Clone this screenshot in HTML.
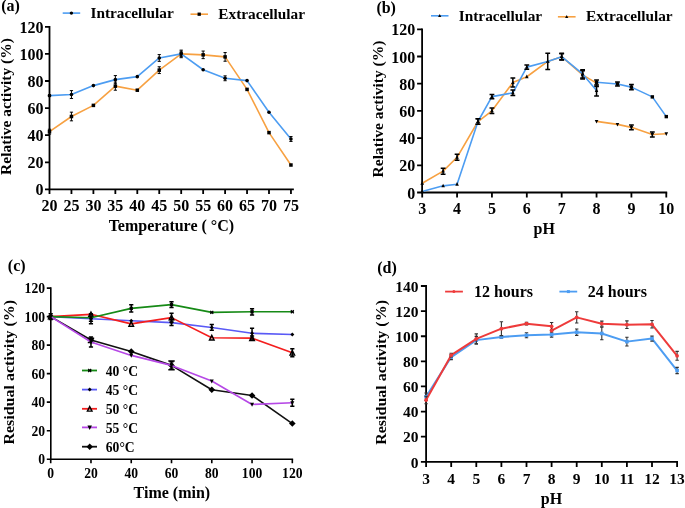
<!DOCTYPE html>
<html><head><meta charset="utf-8"><style>
html,body{margin:0;padding:0;background:#fff;}
body{width:685px;height:508px;overflow:hidden;}
svg{display:block;will-change:transform;}
text{font-family:"Liberation Serif",serif;font-weight:bold;fill:#000;}
</style></head><body>
<svg width="685" height="508" viewBox="0 0 685 508">
<rect width="685" height="508" fill="#fff"/>
<path d="M49.5 26.8 V189.4 H292.95" fill="none" stroke="#000" stroke-width="1.8" stroke-linecap="square"/>
<path d="M45 189.4H49.5M45 162.3H49.5M45 135.2H49.5M45 108.1H49.5M45 81H49.5M45 53.9H49.5M45 26.8H49.5M49.5 189.4V193.9M71.45 189.4V193.9M93.4 189.4V193.9M115.35 189.4V193.9M137.3 189.4V193.9M159.25 189.4V193.9M181.2 189.4V193.9M203.15 189.4V193.9M225.1 189.4V193.9M247.05 189.4V193.9M269 189.4V193.9M290.95 189.4V193.9" fill="none" stroke="#000" stroke-width="1.8"/>
<text x="43.4" y="195.2" font-size="16" text-anchor="end" >0</text>
<text x="43.4" y="168.1" font-size="16" text-anchor="end" >20</text>
<text x="43.4" y="141" font-size="16" text-anchor="end" >40</text>
<text x="43.4" y="113.9" font-size="16" text-anchor="end" >60</text>
<text x="43.4" y="86.8" font-size="16" text-anchor="end" >80</text>
<text x="43.4" y="59.7" font-size="16" text-anchor="end" >100</text>
<text x="43.4" y="32.6" font-size="16" text-anchor="end" >120</text>
<text x="49.5" y="211" font-size="16" text-anchor="middle" >20</text>
<text x="71.45" y="211" font-size="16" text-anchor="middle" >25</text>
<text x="93.4" y="211" font-size="16" text-anchor="middle" >30</text>
<text x="115.35" y="211" font-size="16" text-anchor="middle" >35</text>
<text x="137.3" y="211" font-size="16" text-anchor="middle" >40</text>
<text x="159.25" y="211" font-size="16" text-anchor="middle" >45</text>
<text x="181.2" y="211" font-size="16" text-anchor="middle" >50</text>
<text x="203.15" y="211" font-size="16" text-anchor="middle" >55</text>
<text x="225.1" y="211" font-size="16" text-anchor="middle" >60</text>
<text x="247.05" y="211" font-size="16" text-anchor="middle" >65</text>
<text x="269" y="211" font-size="16" text-anchor="middle" >70</text>
<text x="290.95" y="211" font-size="16" text-anchor="middle" >75</text>
<text x="0" y="0" font-size="15.5" text-anchor="middle" transform="translate(10.6 106.5) rotate(-90) scale(1 0.94)">Relative activity (%)</text>
<text x="171.4" y="230.8" font-size="16" text-anchor="middle" >Temperature ( °C)</text>
<text x="1.2" y="10.6" font-size="16" text-anchor="start" >(a)</text>
<path d="M49.5 131.68 L71.45 116.5 L93.4 105.39 L115.35 86.15 L137.3 90.21 L159.25 70.16 L181.2 53.9 L203.15 54.85 L225.1 56.88 L247.05 89.4 L269 132.63 L290.95 165.01" fill="none" stroke="#f7a142" stroke-width="1.6" stroke-linejoin="round"/>
<path d="M49.5 129.24V134.12M47.9 129.24H51.1M47.9 134.12H51.1" stroke="#000" stroke-width="1.0" fill="none"/>
<path d="M71.45 112.17V120.84M69.85 112.17H73.05M69.85 120.84H73.05" stroke="#000" stroke-width="1.0" fill="none"/>
<path d="M115.35 82.08V90.21M113.75 82.08H116.95M113.75 90.21H116.95" stroke="#000" stroke-width="1.0" fill="none"/>
<path d="M159.25 66.77V73.55M157.65 66.77H160.85M157.65 73.55H160.85" stroke="#000" stroke-width="1.0" fill="none"/>
<path d="M181.2 50.11V57.69M179.6 50.11H182.8M179.6 57.69H182.8" stroke="#000" stroke-width="1.0" fill="none"/>
<path d="M203.15 51.05V58.64M201.55 51.05H204.75M201.55 58.64H204.75" stroke="#000" stroke-width="1.0" fill="none"/>
<path d="M225.1 52.55V61.22M223.5 52.55H226.7M223.5 61.22H226.7" stroke="#000" stroke-width="1.0" fill="none"/>
<rect x="47.75" y="129.93" width="3.5" height="3.5" fill="#000"/>
<rect x="69.7" y="114.75" width="3.5" height="3.5" fill="#000"/>
<rect x="91.65" y="103.64" width="3.5" height="3.5" fill="#000"/>
<rect x="113.6" y="84.4" width="3.5" height="3.5" fill="#000"/>
<rect x="135.55" y="88.46" width="3.5" height="3.5" fill="#000"/>
<rect x="157.5" y="68.41" width="3.5" height="3.5" fill="#000"/>
<rect x="179.45" y="52.15" width="3.5" height="3.5" fill="#000"/>
<rect x="201.4" y="53.1" width="3.5" height="3.5" fill="#000"/>
<rect x="223.35" y="55.13" width="3.5" height="3.5" fill="#000"/>
<rect x="245.3" y="87.65" width="3.5" height="3.5" fill="#000"/>
<rect x="267.25" y="130.88" width="3.5" height="3.5" fill="#000"/>
<rect x="289.2" y="163.26" width="3.5" height="3.5" fill="#000"/>
<path d="M49.5 95.63 L71.45 94.55 L93.4 85.61 L115.35 79.64 L137.3 76.66 L159.25 57.97 L181.2 53.9 L203.15 69.75 L225.1 78.29 L247.05 80.59 L269 112.3 L290.95 138.99" fill="none" stroke="#4d9df2" stroke-width="1.6" stroke-linejoin="round"/>
<path d="M71.45 90.62V98.48M69.85 90.62H73.05M69.85 98.48H73.05" stroke="#000" stroke-width="1.0" fill="none"/>
<path d="M115.35 75.58V83.71M113.75 75.58H116.95M113.75 83.71H116.95" stroke="#000" stroke-width="1.0" fill="none"/>
<path d="M159.25 54.58V61.35M157.65 54.58H160.85M157.65 61.35H160.85" stroke="#000" stroke-width="1.0" fill="none"/>
<path d="M181.2 51.19V56.61M179.6 51.19H182.8M179.6 56.61H182.8" stroke="#000" stroke-width="1.0" fill="none"/>
<path d="M225.1 75.85V80.73M223.5 75.85H226.7M223.5 80.73H226.7" stroke="#000" stroke-width="1.0" fill="none"/>
<path d="M290.95 136.56V141.43M289.35 136.56H292.55M289.35 141.43H292.55" stroke="#000" stroke-width="1.0" fill="none"/>
<path d="M49.5 94.96V96.31M47.9 94.96H51.1M47.9 96.31H51.1" stroke="#000" stroke-width="1.0" fill="none"/>
<circle cx="49.5" cy="95.63" r="1.8" fill="#000"/>
<circle cx="71.45" cy="94.55" r="1.8" fill="#000"/>
<circle cx="93.4" cy="85.61" r="1.8" fill="#000"/>
<circle cx="115.35" cy="79.64" r="1.8" fill="#000"/>
<circle cx="137.3" cy="76.66" r="1.8" fill="#000"/>
<circle cx="159.25" cy="57.97" r="1.8" fill="#000"/>
<circle cx="181.2" cy="53.9" r="1.8" fill="#000"/>
<circle cx="203.15" cy="69.75" r="1.8" fill="#000"/>
<circle cx="225.1" cy="78.29" r="1.8" fill="#000"/>
<circle cx="247.05" cy="80.59" r="1.8" fill="#000"/>
<circle cx="269" cy="112.3" r="1.8" fill="#000"/>
<circle cx="290.95" cy="138.99" r="1.8" fill="#000"/>
<path d="M62.7 13.1 L80.2 13.1" fill="none" stroke="#4d9df2" stroke-width="1.6" stroke-linejoin="round"/>
<circle cx="71.4" cy="13.1" r="1.7" fill="#000"/>
<text x="90.5" y="18.4" font-size="15.3" text-anchor="start" >Intracellular</text>
<path d="M190.5 14.2 L208 14.2" fill="none" stroke="#f7a142" stroke-width="1.6" stroke-linejoin="round"/>
<rect x="197.55" y="12.55" width="3.3" height="3.3" fill="#000"/>
<text x="218.3" y="19.1" font-size="15.3" text-anchor="start" >Extracellular</text>
<path d="M422.1 29.3 V192.5 H666.29" fill="none" stroke="#000" stroke-width="1.8" stroke-linecap="square"/>
<path d="M417.1 192.5H422.1M417.1 165.3H422.1M417.1 138.1H422.1M417.1 110.9H422.1M417.1 83.7H422.1M417.1 56.5H422.1M417.1 29.3H422.1M422.2 192.5V197.5M457.07 192.5V197.5M491.94 192.5V197.5M526.81 192.5V197.5M561.68 192.5V197.5M596.55 192.5V197.5M631.42 192.5V197.5M666.29 192.5V197.5" fill="none" stroke="#000" stroke-width="1.8"/>
<text x="415.3" y="198.6" font-size="16" text-anchor="end" >0</text>
<text x="415.3" y="171.4" font-size="16" text-anchor="end" >20</text>
<text x="415.3" y="144.2" font-size="16" text-anchor="end" >40</text>
<text x="415.3" y="117" font-size="16" text-anchor="end" >60</text>
<text x="415.3" y="89.8" font-size="16" text-anchor="end" >80</text>
<text x="415.3" y="62.6" font-size="16" text-anchor="end" >100</text>
<text x="415.3" y="35.4" font-size="16" text-anchor="end" >120</text>
<text x="422.2" y="214.3" font-size="16" text-anchor="middle" >3</text>
<text x="457.07" y="214.3" font-size="16" text-anchor="middle" >4</text>
<text x="491.94" y="214.3" font-size="16" text-anchor="middle" >5</text>
<text x="526.81" y="214.3" font-size="16" text-anchor="middle" >6</text>
<text x="561.68" y="214.3" font-size="16" text-anchor="middle" >7</text>
<text x="596.55" y="214.3" font-size="16" text-anchor="middle" >8</text>
<text x="631.42" y="214.3" font-size="16" text-anchor="middle" >9</text>
<text x="666.29" y="214.3" font-size="16" text-anchor="middle" >10</text>
<text x="0" y="0" font-size="15.5" text-anchor="middle" transform="translate(382.7 109) rotate(-90) scale(1 0.94)">Relative activity (%)</text>
<text x="544.2" y="233.5" font-size="16" text-anchor="middle" >pH</text>
<text x="376.4" y="13.2" font-size="16" text-anchor="start" >(b)</text>
<path d="M422.2 183.25 L443.12 171.15 L457.07 157.28 L477.99 121.51 L491.94 110.76 L512.86 82.61 L526.81 76.76 L547.73 61.4 L561.68 56.64 L582.6 74.86 L596.55 83.16" fill="none" stroke="#f7a142" stroke-width="1.6" stroke-linejoin="round"/>
<path d="M443.12 168.16V174.14M440.72 168.16H445.52M440.72 174.14H445.52" stroke="#000" stroke-width="1.5" fill="none"/>
<path d="M457.07 154.28V160.27M454.67 154.28H459.47M454.67 160.27H459.47" stroke="#000" stroke-width="1.5" fill="none"/>
<path d="M477.99 118.79V124.23M475.59 118.79H480.39M475.59 124.23H480.39" stroke="#000" stroke-width="1.5" fill="none"/>
<path d="M491.94 108.04V113.48M489.54 108.04H494.34M489.54 113.48H494.34" stroke="#000" stroke-width="1.5" fill="none"/>
<path d="M512.86 78.12V87.1M510.46 78.12H515.26M510.46 87.1H515.26" stroke="#000" stroke-width="1.5" fill="none"/>
<path d="M547.73 53.24V69.56M545.33 53.24H550.13M545.33 69.56H550.13" stroke="#000" stroke-width="1.5" fill="none"/>
<path d="M561.68 53.37V59.9M559.28 53.37H564.08M559.28 59.9H564.08" stroke="#000" stroke-width="1.5" fill="none"/>
<path d="M582.6 70.78V78.94M580.2 70.78H585M580.2 78.94H585" stroke="#000" stroke-width="1.5" fill="none"/>
<path d="M596.55 79.89V86.42M594.15 79.89H598.95M594.15 86.42H598.95" stroke="#000" stroke-width="1.5" fill="none"/>
<path d="M422.2 181.09L424 184.69L420.4 184.69Z" fill="#000"/>
<path d="M443.12 168.99L444.92 172.59L441.32 172.59Z" fill="#000"/>
<path d="M457.07 155.12L458.87 158.72L455.27 158.72Z" fill="#000"/>
<path d="M477.99 119.35L479.79 122.95L476.19 122.95Z" fill="#000"/>
<path d="M491.94 108.6L493.74 112.2L490.14 112.2Z" fill="#000"/>
<path d="M512.86 80.45L514.66 84.05L511.06 84.05Z" fill="#000"/>
<path d="M526.81 74.6L528.61 78.2L525.01 78.2Z" fill="#000"/>
<path d="M547.73 59.24L549.53 62.84L545.93 62.84Z" fill="#000"/>
<path d="M561.68 54.48L563.48 58.08L559.88 58.08Z" fill="#000"/>
<path d="M582.6 72.7L584.4 76.3L580.8 76.3Z" fill="#000"/>
<path d="M596.55 81L598.35 84.6L594.75 84.6Z" fill="#000"/>
<path d="M422.2 191.41 L443.12 185.84 L457.07 184.2 L477.99 121.51 L491.94 96.62 L512.86 92.81 L526.81 67.11 L547.73 61.4 L561.68 56.64 L582.6 73.91 L596.55 90.5" fill="none" stroke="#4d9df2" stroke-width="1.6" stroke-linejoin="round"/>
<path d="M491.94 94.58V98.66M489.54 94.58H494.34M489.54 98.66H494.34" stroke="#000" stroke-width="1.5" fill="none"/>
<path d="M512.86 90.09V95.53M510.46 90.09H515.26M510.46 95.53H515.26" stroke="#000" stroke-width="1.5" fill="none"/>
<path d="M526.81 65.07V69.15M524.41 65.07H529.21M524.41 69.15H529.21" stroke="#000" stroke-width="1.5" fill="none"/>
<path d="M561.68 53.64V59.63M559.28 53.64H564.08M559.28 59.63H564.08" stroke="#000" stroke-width="1.5" fill="none"/>
<path d="M582.6 69.83V77.99M580.2 69.83H585M580.2 77.99H585" stroke="#000" stroke-width="1.5" fill="none"/>
<path d="M596.55 85.06V95.94M594.15 85.06H598.95M594.15 95.94H598.95" stroke="#000" stroke-width="1.5" fill="none"/>
<path d="M477.99 118.79V124.23M475.59 118.79H480.39M475.59 124.23H480.39" stroke="#000" stroke-width="1.5" fill="none"/>
<path d="M422.2 189.25L424 192.85L420.4 192.85Z" fill="#000"/>
<path d="M443.12 183.68L444.92 187.28L441.32 187.28Z" fill="#000"/>
<path d="M457.07 182.04L458.87 185.64L455.27 185.64Z" fill="#000"/>
<path d="M477.99 119.35L479.79 122.95L476.19 122.95Z" fill="#000"/>
<path d="M491.94 94.46L493.74 98.06L490.14 98.06Z" fill="#000"/>
<path d="M512.86 90.65L514.66 94.25L511.06 94.25Z" fill="#000"/>
<path d="M526.81 64.95L528.61 68.55L525.01 68.55Z" fill="#000"/>
<path d="M547.73 59.24L549.53 62.84L545.93 62.84Z" fill="#000"/>
<path d="M561.68 54.48L563.48 58.08L559.88 58.08Z" fill="#000"/>
<path d="M582.6 71.75L584.4 75.35L580.8 75.35Z" fill="#000"/>
<path d="M596.55 88.34L598.35 91.94L594.75 91.94Z" fill="#000"/>
<path d="M596.55 82.2 L617.47 83.97 L631.42 87.1 L652.34 96.89 L666.29 116.61" fill="none" stroke="#4d9df2" stroke-width="1.6" stroke-linejoin="round"/>
<path d="M617.47 81.93V86.01M615.07 81.93H619.87M615.07 86.01H619.87" stroke="#000" stroke-width="1.5" fill="none"/>
<path d="M631.42 84.38V89.82M629.02 84.38H633.82M629.02 89.82H633.82" stroke="#000" stroke-width="1.5" fill="none"/>
<rect x="594.85" y="80.5" width="3.4" height="3.4" fill="#000"/>
<rect x="615.77" y="82.27" width="3.4" height="3.4" fill="#000"/>
<rect x="629.72" y="85.4" width="3.4" height="3.4" fill="#000"/>
<rect x="650.64" y="95.19" width="3.4" height="3.4" fill="#000"/>
<rect x="664.59" y="114.91" width="3.4" height="3.4" fill="#000"/>
<path d="M596.55 121.37 L617.47 124.36 L631.42 127.36 L652.34 134.43 L666.29 133.75" fill="none" stroke="#f7a142" stroke-width="1.6" stroke-linejoin="round"/>
<path d="M631.42 124.91V129.8M629.02 124.91H633.82M629.02 129.8H633.82" stroke="#000" stroke-width="1.5" fill="none"/>
<path d="M652.34 131.98V136.88M649.94 131.98H654.74M649.94 136.88H654.74" stroke="#000" stroke-width="1.5" fill="none"/>
<path d="M596.55 123.53L598.35 119.93L594.75 119.93Z" fill="#000"/>
<path d="M617.47 126.52L619.27 122.92L615.67 122.92Z" fill="#000"/>
<path d="M631.42 129.52L633.22 125.92L629.62 125.92Z" fill="#000"/>
<path d="M652.34 136.59L654.14 132.99L650.54 132.99Z" fill="#000"/>
<path d="M666.29 135.91L668.09 132.31L664.49 132.31Z" fill="#000"/>
<path d="M431 15.8 L448.5 15.8" fill="none" stroke="#4d9df2" stroke-width="1.6" stroke-linejoin="round"/>
<path d="M439.7 13.88L441.3 17.08L438.1 17.08Z" fill="#000"/>
<text x="458.8" y="20.6" font-size="15.3" text-anchor="start" >Intracellular</text>
<path d="M557.9 16.8 L575.6 16.8" fill="none" stroke="#f7a142" stroke-width="1.6" stroke-linejoin="round"/>
<path d="M566.7 14.88L568.3 18.08L565.1 18.08Z" fill="#000"/>
<text x="586" y="21.2" font-size="15.3" text-anchor="start" >Extracellular</text>
<path d="M50.8 288.1 V459.2 H292.32" fill="none" stroke="#000" stroke-width="1.6" stroke-linecap="square"/>
<path d="M46.8 459.2H50.8M46.8 430.68H50.8M46.8 402.17H50.8M46.8 373.65H50.8M46.8 345.13H50.8M46.8 316.62H50.8M46.8 288.1H50.8M50.7 459.2V463.2M90.97 459.2V463.2M131.24 459.2V463.2M171.51 459.2V463.2M211.78 459.2V463.2M252.05 459.2V463.2M292.32 459.2V463.2" fill="none" stroke="#000" stroke-width="1.6"/>
<text x="45" y="464.2" font-size="13.6" text-anchor="end" >0</text>
<text x="45" y="435.68" font-size="13.6" text-anchor="end" >20</text>
<text x="45" y="407.17" font-size="13.6" text-anchor="end" >40</text>
<text x="45" y="378.65" font-size="13.6" text-anchor="end" >60</text>
<text x="45" y="350.13" font-size="13.6" text-anchor="end" >80</text>
<text x="45" y="321.62" font-size="13.6" text-anchor="end" >100</text>
<text x="45" y="293.1" font-size="13.6" text-anchor="end" >120</text>
<text x="50.7" y="478.1" font-size="13.6" text-anchor="middle" >0</text>
<text x="90.97" y="478.1" font-size="13.6" text-anchor="middle" >20</text>
<text x="131.24" y="478.1" font-size="13.6" text-anchor="middle" >40</text>
<text x="171.51" y="478.1" font-size="13.6" text-anchor="middle" >60</text>
<text x="211.78" y="478.1" font-size="13.6" text-anchor="middle" >80</text>
<text x="252.05" y="478.1" font-size="13.6" text-anchor="middle" >100</text>
<text x="292.32" y="478.1" font-size="13.6" text-anchor="middle" >120</text>
<text x="0" y="0" font-size="16" text-anchor="middle" transform="translate(13.5 372.2) rotate(-90) scale(1 0.94)">Residual activity (%)</text>
<text x="171.9" y="498.4" font-size="16" text-anchor="middle" >Time (min)</text>
<text x="7.8" y="271" font-size="16" text-anchor="start" >(c)</text>
<path d="M50.7 316.62 L90.97 340 L131.24 351.55 L171.51 365.38 L211.78 389.76 L252.05 395.47 L292.32 423.55" fill="none" stroke="#111" stroke-width="1.6" stroke-linejoin="round"/>
<path d="M90.97 338.15V342.42M87.77 338.15H94.17M87.77 342.42H94.17" stroke="#000" stroke-width="1.5" fill="none"/>
<path d="M171.51 360.96V369.8M168.31 360.96H174.71M168.31 369.8H174.71" stroke="#000" stroke-width="1.5" fill="none"/>
<path d="M50.7 313.32L54 316.62L50.7 319.92L47.4 316.62Z" fill="#000"/>
<path d="M90.97 336.7L94.27 340L90.97 343.3L87.67 340Z" fill="#000"/>
<path d="M131.24 348.25L134.54 351.55L131.24 354.85L127.94 351.55Z" fill="#000"/>
<path d="M171.51 362.08L174.81 365.38L171.51 368.68L168.21 365.38Z" fill="#000"/>
<path d="M211.78 386.46L215.08 389.76L211.78 393.06L208.48 389.76Z" fill="#000"/>
<path d="M252.05 392.17L255.35 395.47L252.05 398.77L248.75 395.47Z" fill="#000"/>
<path d="M292.32 420.25L295.62 423.55L292.32 426.85L289.02 423.55Z" fill="#000"/>
<path d="M50.7 316.62 L90.97 318.76 L131.24 320.75 L171.51 322.61 L211.78 327.45 L252.05 333.3 L292.32 334.44" fill="none" stroke="#5a5af6" stroke-width="1.6" stroke-linejoin="round"/>
<path d="M90.97 313.76V323.75M88.87 313.76H93.07M88.87 323.75H93.07" stroke="#000" stroke-width="1.5" fill="none"/>
<path d="M171.51 319.75V325.46M169.41 319.75H173.61M169.41 325.46H173.61" stroke="#000" stroke-width="1.5" fill="none"/>
<path d="M211.78 324.6V330.3M209.68 324.6H213.88M209.68 330.3H213.88" stroke="#000" stroke-width="1.5" fill="none"/>
<path d="M252.05 328.31V338.29M249.95 328.31H254.15M249.95 338.29H254.15" stroke="#000" stroke-width="1.5" fill="none"/>
<path d="M50.7 314.62L52.7 316.62L50.7 318.62L48.7 316.62Z" fill="#000"/>
<path d="M90.97 316.76L92.97 318.76L90.97 320.76L88.97 318.76Z" fill="#000"/>
<path d="M131.24 318.75L133.24 320.75L131.24 322.75L129.24 320.75Z" fill="#000"/>
<path d="M171.51 320.61L173.51 322.61L171.51 324.61L169.51 322.61Z" fill="#000"/>
<path d="M211.78 325.45L213.78 327.45L211.78 329.45L209.78 327.45Z" fill="#000"/>
<path d="M252.05 331.3L254.05 333.3L252.05 335.3L250.05 333.3Z" fill="#000"/>
<path d="M292.32 332.44L294.32 334.44L292.32 336.44L290.32 334.44Z" fill="#000"/>
<path d="M50.7 316.62 L90.97 314.34 L131.24 323.89 L171.51 317.61 L211.78 337.72 L252.05 338.15 L292.32 352.83" fill="none" stroke="#f41e1e" stroke-width="1.6" stroke-linejoin="round"/>
<path d="M171.51 313.34V321.89M169.41 313.34H173.61M169.41 321.89H173.61" stroke="#000" stroke-width="1.5" fill="none"/>
<path d="M252.05 336.01V340.29M249.95 336.01H254.15M249.95 340.29H254.15" stroke="#000" stroke-width="1.5" fill="none"/>
<path d="M292.32 348.84V356.83M290.22 348.84H294.42M290.22 356.83H294.42" stroke="#000" stroke-width="1.5" fill="none"/>
<path d="M50.7 314.32L53 318.92L48.4 318.92Z" fill="none" stroke="#000" stroke-width="1.4" stroke-linejoin="miter"/>
<path d="M90.97 312.04L93.27 316.64L88.67 316.64Z" fill="none" stroke="#000" stroke-width="1.4" stroke-linejoin="miter"/>
<path d="M131.24 321.59L133.54 326.19L128.94 326.19Z" fill="none" stroke="#000" stroke-width="1.4" stroke-linejoin="miter"/>
<path d="M171.51 315.31L173.81 319.91L169.21 319.91Z" fill="none" stroke="#000" stroke-width="1.4" stroke-linejoin="miter"/>
<path d="M211.78 335.42L214.08 340.02L209.48 340.02Z" fill="none" stroke="#000" stroke-width="1.4" stroke-linejoin="miter"/>
<path d="M252.05 335.85L254.35 340.45L249.75 340.45Z" fill="none" stroke="#000" stroke-width="1.4" stroke-linejoin="miter"/>
<path d="M292.32 350.53L294.62 355.13L290.02 355.13Z" fill="none" stroke="#000" stroke-width="1.4" stroke-linejoin="miter"/>
<path d="M50.7 316.62 L90.97 317.76 L131.24 308.35 L171.51 304.64 L211.78 312.34 L252.05 311.77 L292.32 311.77" fill="none" stroke="#168a16" stroke-width="1.6" stroke-linejoin="round"/>
<path d="M90.97 314.19V321.32M88.87 314.19H93.07M88.87 321.32H93.07" stroke="#000" stroke-width="1.5" fill="none"/>
<path d="M131.24 304.78V311.91M129.14 304.78H133.34M129.14 311.91H133.34" stroke="#000" stroke-width="1.5" fill="none"/>
<path d="M171.51 301.79V307.49M169.41 301.79H173.61M169.41 307.49H173.61" stroke="#000" stroke-width="1.5" fill="none"/>
<path d="M252.05 308.63V314.91M249.95 308.63H254.15M249.95 314.91H254.15" stroke="#000" stroke-width="1.5" fill="none"/>
<path d="M49.2 315.12L52.2 318.12M52.2 315.12L49.2 318.12M49.2 316.62H52.2" stroke="#000" stroke-width="1.2"/>
<path d="M89.47 316.26L92.47 319.26M92.47 316.26L89.47 319.26M89.47 317.76H92.47" stroke="#000" stroke-width="1.2"/>
<path d="M129.74 306.85L132.74 309.85M132.74 306.85L129.74 309.85M129.74 308.35H132.74" stroke="#000" stroke-width="1.2"/>
<path d="M170.01 303.14L173.01 306.14M173.01 303.14L170.01 306.14M170.01 304.64H173.01" stroke="#000" stroke-width="1.2"/>
<path d="M210.28 310.84L213.28 313.84M213.28 310.84L210.28 313.84M210.28 312.34H213.28" stroke="#000" stroke-width="1.2"/>
<path d="M250.55 310.27L253.55 313.27M253.55 310.27L250.55 313.27M250.55 311.77H253.55" stroke="#000" stroke-width="1.2"/>
<path d="M290.82 310.27L293.82 313.27M293.82 310.27L290.82 313.27M290.82 311.77H293.82" stroke="#000" stroke-width="1.2"/>
<path d="M50.7 316.62 L90.97 342 L131.24 355.4 L171.51 365.38 L211.78 381.06 L252.05 404.45 L292.32 402.74" fill="none" stroke="#b648e6" stroke-width="1.6" stroke-linejoin="round"/>
<path d="M50.7 313.76V319.47M48.6 313.76H52.8M48.6 319.47H52.8" stroke="#000" stroke-width="1.5" fill="none"/>
<path d="M90.97 337.01V346.99M88.87 337.01H93.07M88.87 346.99H93.07" stroke="#000" stroke-width="1.5" fill="none"/>
<path d="M171.51 361.82V368.94M169.41 361.82H173.61M169.41 368.94H173.61" stroke="#000" stroke-width="1.5" fill="none"/>
<path d="M292.32 399.17V406.3M290.22 399.17H294.42M290.22 406.3H294.42" stroke="#000" stroke-width="1.5" fill="none"/>
<path d="M50.7 319.02L52.7 315.02L48.7 315.02Z" fill="#000"/>
<path d="M90.97 344.4L92.97 340.4L88.97 340.4Z" fill="#000"/>
<path d="M131.24 357.8L133.24 353.8L129.24 353.8Z" fill="#000"/>
<path d="M171.51 367.78L173.51 363.78L169.51 363.78Z" fill="#000"/>
<path d="M211.78 383.46L213.78 379.46L209.78 379.46Z" fill="#000"/>
<path d="M252.05 406.85L254.05 402.85L250.05 402.85Z" fill="#000"/>
<path d="M292.32 405.14L294.32 401.14L290.32 401.14Z" fill="#000"/>
<path d="M82 370.5 L97 370.5" fill="none" stroke="#168a16" stroke-width="1.8" stroke-linejoin="round"/>
<path d="M88.2 369L91.2 372M91.2 369L88.2 372M88.2 370.5H91.2" stroke="#000" stroke-width="1.2"/>
<text x="105.8" y="375.7" font-size="13.6" text-anchor="start" >40 °C</text>
<path d="M82 389.6 L97 389.6" fill="none" stroke="#5a5af6" stroke-width="1.8" stroke-linejoin="round"/>
<path d="M89.7 387.6L91.7 389.6L89.7 391.6L87.7 389.6Z" fill="#000"/>
<text x="105.8" y="394.8" font-size="13.6" text-anchor="start" >45 °C</text>
<path d="M82 408.8 L97 408.8" fill="none" stroke="#f41e1e" stroke-width="1.8" stroke-linejoin="round"/>
<path d="M89.7 406.5L92 411.1L87.4 411.1Z" fill="none" stroke="#000" stroke-width="1.4" stroke-linejoin="miter"/>
<text x="105.8" y="414" font-size="13.6" text-anchor="start" >50 °C</text>
<path d="M82 427.4 L97 427.4" fill="none" stroke="#b648e6" stroke-width="1.8" stroke-linejoin="round"/>
<path d="M89.7 430.1L91.95 425.6L87.45 425.6Z" fill="#000"/>
<text x="105.8" y="432.6" font-size="13.6" text-anchor="start" >55 °C</text>
<path d="M82 446.7 L97 446.7" fill="none" stroke="#111" stroke-width="1.8" stroke-linejoin="round"/>
<path d="M89.7 443.5L92.9 446.7L89.7 449.9L86.5 446.7Z" fill="#000"/>
<text x="105.8" y="451.9" font-size="13.6" text-anchor="start" >60°C</text>
<path d="M426.1 286 V461.8 H677.1" fill="none" stroke="#000" stroke-width="1.8" stroke-linecap="square"/>
<path d="M420.9 461.8H426.1M420.9 436.69H426.1M420.9 411.57H426.1M420.9 386.46H426.1M420.9 361.34H426.1M420.9 336.23H426.1M420.9 311.11H426.1M420.9 286H426.1M426.1 461.8V467M451.2 461.8V467M476.3 461.8V467M501.4 461.8V467M526.5 461.8V467M551.6 461.8V467M576.7 461.8V467M601.8 461.8V467M626.9 461.8V467M652 461.8V467M677.1 461.8V467" fill="none" stroke="#000" stroke-width="1.8"/>
<text x="418.6" y="467.6" font-size="15.5" text-anchor="end" >0</text>
<text x="418.6" y="442.49" font-size="15.5" text-anchor="end" >20</text>
<text x="418.6" y="417.37" font-size="15.5" text-anchor="end" >40</text>
<text x="418.6" y="392.26" font-size="15.5" text-anchor="end" >60</text>
<text x="418.6" y="367.14" font-size="15.5" text-anchor="end" >80</text>
<text x="418.6" y="342.03" font-size="15.5" text-anchor="end" >100</text>
<text x="418.6" y="316.91" font-size="15.5" text-anchor="end" >120</text>
<text x="418.6" y="291.8" font-size="15.5" text-anchor="end" >140</text>
<text x="426.1" y="484.3" font-size="15.5" text-anchor="middle" >3</text>
<text x="451.2" y="484.3" font-size="15.5" text-anchor="middle" >4</text>
<text x="476.3" y="484.3" font-size="15.5" text-anchor="middle" >5</text>
<text x="501.4" y="484.3" font-size="15.5" text-anchor="middle" >6</text>
<text x="526.5" y="484.3" font-size="15.5" text-anchor="middle" >7</text>
<text x="551.6" y="484.3" font-size="15.5" text-anchor="middle" >8</text>
<text x="576.7" y="484.3" font-size="15.5" text-anchor="middle" >9</text>
<text x="601.8" y="484.3" font-size="15.5" text-anchor="middle" >10</text>
<text x="626.9" y="484.3" font-size="15.5" text-anchor="middle" >11</text>
<text x="652" y="484.3" font-size="15.5" text-anchor="middle" >12</text>
<text x="677.1" y="484.3" font-size="15.5" text-anchor="middle" >13</text>
<text x="0" y="0" font-size="16" text-anchor="middle" transform="translate(385.8 372.4) rotate(-90) scale(1 0.94)">Residual activity (%)</text>
<text x="551.5" y="504.4" font-size="16" text-anchor="middle" >pH</text>
<text x="377.2" y="273" font-size="16" text-anchor="start" >(d)</text>
<path d="M426.1 396.75 L451.2 357.07 L476.3 340.12 L501.4 336.98 L526.5 335.22 L551.6 334.6 L576.7 332.21 L601.8 333.47 L626.9 341.63 L652 338.61 L677.1 370.51" fill="none" stroke="#4d9df2" stroke-width="2.0" stroke-linejoin="round"/>
<path d="M426.1 392.99V400.52M424.4 392.99H427.8M424.4 400.52H427.8" stroke="#333" stroke-width="1.1" fill="none"/>
<path d="M451.2 354.56V359.58M449.5 354.56H452.9M449.5 359.58H452.9" stroke="#333" stroke-width="1.1" fill="none"/>
<path d="M476.3 336.35V343.89M474.6 336.35H478M474.6 343.89H478" stroke="#333" stroke-width="1.1" fill="none"/>
<path d="M501.4 335.73V338.24M499.7 335.73H503.1M499.7 338.24H503.1" stroke="#333" stroke-width="1.1" fill="none"/>
<path d="M526.5 332.71V337.74M524.8 332.71H528.2M524.8 337.74H528.2" stroke="#333" stroke-width="1.1" fill="none"/>
<path d="M551.6 332.08V337.11M549.9 332.08H553.3M549.9 337.11H553.3" stroke="#333" stroke-width="1.1" fill="none"/>
<path d="M576.7 329.07V335.35M575 329.07H578.4M575 335.35H578.4" stroke="#333" stroke-width="1.1" fill="none"/>
<path d="M601.8 327.19V339.74M600.1 327.19H603.5M600.1 339.74H603.5" stroke="#333" stroke-width="1.1" fill="none"/>
<path d="M626.9 337.23V346.02M625.2 337.23H628.6M625.2 346.02H628.6" stroke="#333" stroke-width="1.1" fill="none"/>
<path d="M652 336.1V341.13M650.3 336.1H653.7M650.3 341.13H653.7" stroke="#333" stroke-width="1.1" fill="none"/>
<path d="M677.1 367.37V373.65M675.4 367.37H678.8M675.4 373.65H678.8" stroke="#333" stroke-width="1.1" fill="none"/>
<rect x="424.3" y="394.95" width="3.6" height="3.6" fill="#4d9df2"/>
<rect x="449.4" y="355.27" width="3.6" height="3.6" fill="#4d9df2"/>
<rect x="474.5" y="338.32" width="3.6" height="3.6" fill="#4d9df2"/>
<rect x="499.6" y="335.18" width="3.6" height="3.6" fill="#4d9df2"/>
<rect x="524.7" y="333.42" width="3.6" height="3.6" fill="#4d9df2"/>
<rect x="549.8" y="332.8" width="3.6" height="3.6" fill="#4d9df2"/>
<rect x="574.9" y="330.41" width="3.6" height="3.6" fill="#4d9df2"/>
<rect x="600" y="331.67" width="3.6" height="3.6" fill="#4d9df2"/>
<rect x="625.1" y="339.83" width="3.6" height="3.6" fill="#4d9df2"/>
<rect x="650.2" y="336.81" width="3.6" height="3.6" fill="#4d9df2"/>
<rect x="675.3" y="368.71" width="3.6" height="3.6" fill="#4d9df2"/>
<path d="M426.1 400.02 L451.2 355.19 L476.3 338.87 L501.4 328.69 L526.5 323.67 L551.6 326.31 L551.6 330.58 L576.7 317.39 L601.8 323.67 L626.9 324.68 L652 324.3 L677.1 355.82" fill="none" stroke="#ee3b3b" stroke-width="2.0" stroke-linejoin="round"/>
<path d="M426.1 396.25V403.79M424.4 396.25H427.8M424.4 403.79H427.8" stroke="#333" stroke-width="1.1" fill="none"/>
<path d="M451.2 353.31V357.07M449.5 353.31H452.9M449.5 357.07H452.9" stroke="#333" stroke-width="1.1" fill="none"/>
<path d="M476.3 333.84V343.89M474.6 333.84H478M474.6 343.89H478" stroke="#333" stroke-width="1.1" fill="none"/>
<path d="M501.4 321.79V335.6M499.7 321.79H503.1M499.7 335.6H503.1" stroke="#333" stroke-width="1.1" fill="none"/>
<path d="M526.5 322.42V324.93M524.8 322.42H528.2M524.8 324.93H528.2" stroke="#333" stroke-width="1.1" fill="none"/>
<path d="M551.6 322.54V330.08M549.9 322.54H553.3M549.9 330.08H553.3" stroke="#333" stroke-width="1.1" fill="none"/>
<path d="M576.7 311.74V323.04M575 311.74H578.4M575 323.04H578.4" stroke="#333" stroke-width="1.1" fill="none"/>
<path d="M601.8 321.16V326.18M600.1 321.16H603.5M600.1 326.18H603.5" stroke="#333" stroke-width="1.1" fill="none"/>
<path d="M626.9 320.91V328.44M625.2 320.91H628.6M625.2 328.44H628.6" stroke="#333" stroke-width="1.1" fill="none"/>
<path d="M652 320.53V328.07M650.3 320.53H653.7M650.3 328.07H653.7" stroke="#333" stroke-width="1.1" fill="none"/>
<path d="M677.1 351.42V360.21M675.4 351.42H678.8M675.4 360.21H678.8" stroke="#333" stroke-width="1.1" fill="none"/>
<circle cx="426.1" cy="400.02" r="1.9" fill="#ee3b3b"/>
<circle cx="451.2" cy="355.19" r="1.9" fill="#ee3b3b"/>
<circle cx="476.3" cy="338.87" r="1.9" fill="#ee3b3b"/>
<circle cx="501.4" cy="328.69" r="1.9" fill="#ee3b3b"/>
<circle cx="526.5" cy="323.67" r="1.9" fill="#ee3b3b"/>
<circle cx="551.6" cy="326.31" r="1.9" fill="#ee3b3b"/>
<circle cx="551.6" cy="330.58" r="1.9" fill="#ee3b3b"/>
<circle cx="576.7" cy="317.39" r="1.9" fill="#ee3b3b"/>
<circle cx="601.8" cy="323.67" r="1.9" fill="#ee3b3b"/>
<circle cx="626.9" cy="324.68" r="1.9" fill="#ee3b3b"/>
<circle cx="652" cy="324.3" r="1.9" fill="#ee3b3b"/>
<circle cx="677.1" cy="355.82" r="1.9" fill="#ee3b3b"/>
<path d="M445.1 291.6 L462.9 291.6" fill="none" stroke="#ee3b3b" stroke-width="1.8" stroke-linejoin="round"/>
<circle cx="453.9" cy="291.6" r="1.5" fill="#ee3b3b"/>
<text x="473.9" y="297" font-size="16" text-anchor="start" >12 hours</text>
<path d="M559.4 291.6 L577.2 291.6" fill="none" stroke="#4d9df2" stroke-width="1.8" stroke-linejoin="round"/>
<rect x="566.9" y="290.1" width="3" height="3" fill="#4d9df2"/>
<text x="587.8" y="297" font-size="16" text-anchor="start" >24 hours</text>
</svg>
</body></html>
